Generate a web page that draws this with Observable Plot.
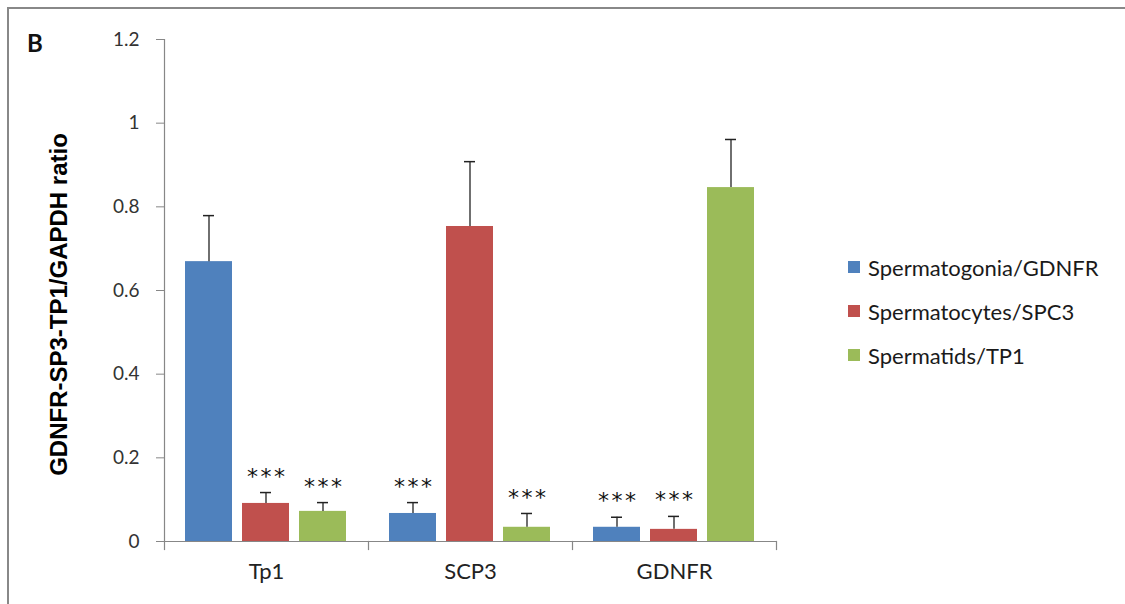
<!DOCTYPE html>
<html>
<head>
<meta charset="utf-8">
<script src="https://cdn.jsdelivr.net/npm/d3@7"></script>
<script src="https://cdn.jsdelivr.net/npm/@observablehq/plot@0.6"></script>
<style>
  html, body { margin: 0; padding: 0; background: #fff; overflow: hidden; }
  #wrap { position: relative; width: 1125px; height: 604px; overflow: hidden; font-family: Lato, "Open Sans", sans-serif; }
  #border { position: absolute; left: 7px; top: 7px; width: 1140px; height: 620px; border-top: 2px solid #888; border-left: 2px solid #888; box-sizing: border-box; }
  #panel { position: absolute; left: 27px; top: 31px; font: bold 24px Lato, sans-serif; color: #111; line-height: 1; }
  #legend { position: absolute; left: 848px; top: 0; }
  .row { position: absolute; left: 0; height: 30px; display: flex; align-items: center; white-space: nowrap; font-size: 22px; color: #1a1a1a; }
  .sw { width: 12px; height: 12px; margin-right: 8px; }
  #chart { position: absolute; left: 0; top: 0; width: 1125px; height: 604px; }
  .stars text { letter-spacing: 2.5px; }
</style>
</head>
<body>
<div id="wrap">
  <div id="chart"></div>
  <div id="border"></div>
  <div id="panel">B</div>
  <div id="legend"></div>
</div>
<script>
// ---- data ----
const groups = ["Tp1", "SCP3", "GDNFR"];
const series = ["Spermatogonia/GDNFR", "Spermatocytes/SPC3", "Spermatids/TP1"];
const colors = ["#4F81BD", "#C0504D", "#9BBB59"];
const spermatogoniaValues = [0.669, 0.067, 0.034];
const spermatocytesValues = [0.091, 0.753, 0.029];
const spermatidsValues    = [0.072, 0.034, 0.846];
const spermatogoniaErrors = [0.110, 0.026, 0.024];
const spermatocytesErrors = [0.026, 0.155, 0.031];
const spermatidsErrors    = [0.021, 0.033, 0.115];
const spermatogoniaSig = ["", "***", "***"];
const spermatocytesSig = ["***", "", "***"];
const spermatidsSig    = ["***", "***", ""];
const yTicks = [0, 0.2, 0.4, 0.6, 0.8, 1, 1.2];
const yTickLabels = ["0", "0.2", "0.4", "0.6", "0.8", "1", "1.2"];
const yTitle = "GDNFR-SP3-TP1/GAPDH ratio";

const valueSets = [spermatogoniaValues, spermatocytesValues, spermatidsValues];
const errorSets = [spermatogoniaErrors, spermatocytesErrors, spermatidsErrors];
const sigSets = [spermatogoniaSig, spermatocytesSig, spermatidsSig];

const data = [];
groups.forEach((g, gi) => {
  series.forEach((s, si) => {
    data.push({group: g, series: s, value: valueSets[si][gi], err: errorSets[si][gi], sig: sigSets[si][gi]});
  });
});

const W = 1125, H = 604;
const mL = 163, mR = 348, mT = 39, mB = 63;
const innerH = H - mT - mB;
const gray = "#878787";

const chart = Plot.plot({
  width: W, height: H,
  marginLeft: mL, marginRight: mR, marginTop: mT, marginBottom: mB,
  style: {fontFamily: "Lato, 'Open Sans', sans-serif", background: "transparent", overflow: "visible"},
  fx: {domain: groups, padding: 0, axis: null, label: null},
  x: {domain: series, paddingInner: 0.172, paddingOuter: 0.353, axis: null, label: null},
  y: {domain: [0, 1.2], axis: null, label: null},
  color: {domain: series, range: colors},
  marks: [
    Plot.barY(data, {fx: "group", x: "series", y: "value", fill: "series"}),
    Plot.ruleX(data, {fx: "group", x: "series", y1: "value", y2: d => d.value + d.err, stroke: "#222", strokeWidth: 1.3}),
    Plot.tickY(data, {fx: "group", x: "series", y: d => d.value + d.err, insetLeft: 18, insetRight: 18, stroke: "#222", strokeWidth: 1.5}),
    Plot.text(data.filter(d => d.sig), {fx: "group", x: "series", y: d => d.value + d.err, text: "sig", dy: -16, dx: 1.2, fontSize: 22, fontFamily: "'DejaVu Sans', sans-serif", fill: "#111", className: "stars"}),
    Plot.ruleY([0], {stroke: gray, strokeWidth: 1.2}),
    Plot.frame({anchor: "left", facetAnchor: "left", stroke: gray, strokeWidth: 1.2}),
    Plot.frame({anchor: "left", insetTop: innerH, insetBottom: -8, stroke: gray, strokeWidth: 1.2}),
    Plot.frame({anchor: "right", facetAnchor: "right", insetTop: innerH, insetBottom: -8, stroke: gray, strokeWidth: 1.2}),
    Plot.axisY(yTicks, {tickSize: 8, tickPadding: 17, tickFormat: (d) => yTickLabels[yTicks.indexOf(d)], fontSize: 19, stroke: gray, fill: "#333", label: null}),
    Plot.axisFx({anchor: "bottom", tickSize: 0, tickPadding: 22, fontSize: 22, fill: "#222", label: null}),
    Plot.text([yTitle], {frameAnchor: "left", facetAnchor: "left", textAnchor: "middle", rotate: -90, dx: -105, dy: 14, fontSize: 24, fontWeight: "bold", fontFamily: "'Liberation Sans', Arial, sans-serif", fill: "#000"})
  ]
});
document.getElementById("chart").appendChild(chart);

// legend
const legend = document.getElementById("legend");
const rowCenters = [267, 311, 355];
series.forEach((s, i) => {
  const row = document.createElement("div");
  row.className = "row";
  row.style.top = (rowCenters[i] - 15) + "px";
  const sw = document.createElement("div");
  sw.className = "sw";
  sw.style.background = colors[i];
  const t = document.createElement("span");
  t.textContent = s;
  row.appendChild(sw);
  row.appendChild(t);
  legend.appendChild(row);
});
</script>
</body>
</html>
